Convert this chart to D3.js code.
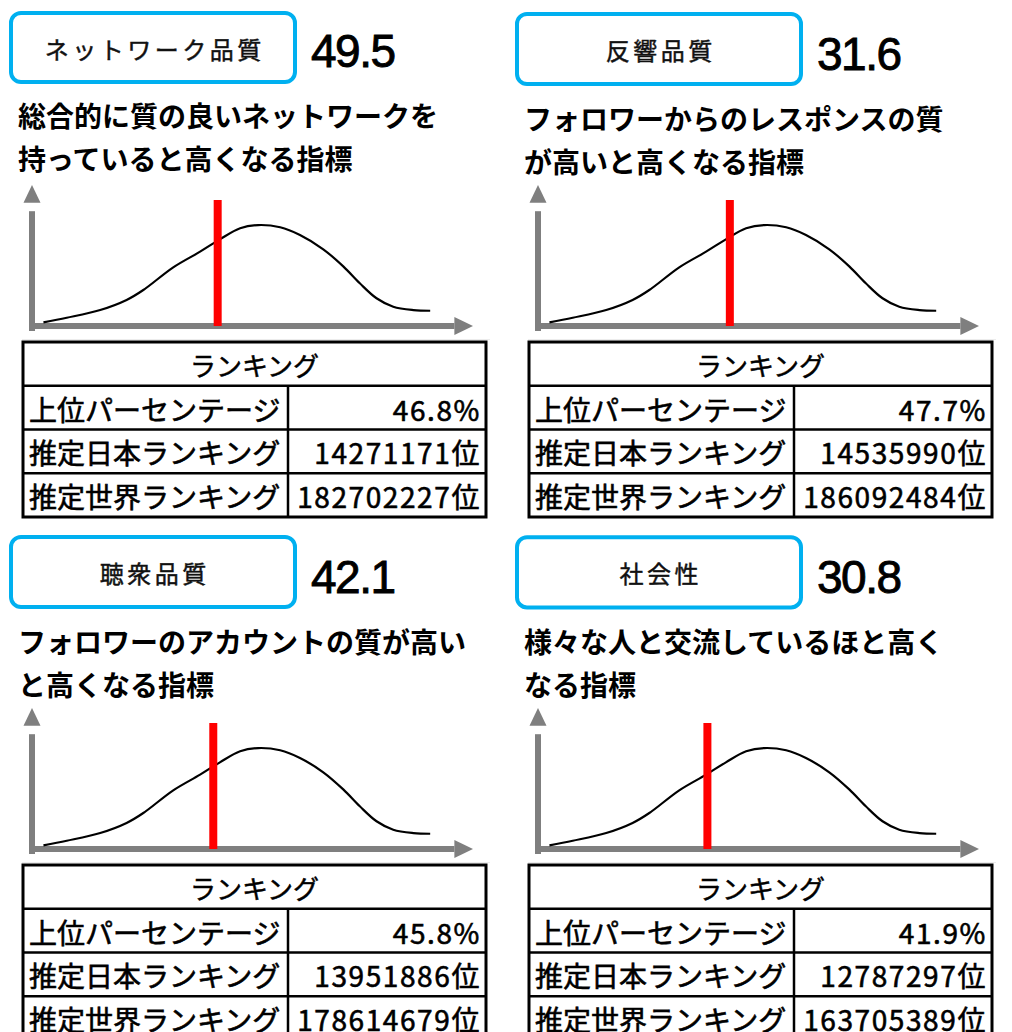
<!DOCTYPE html>
<html><head><meta charset="utf-8">
<script src="https://cdn.jsdelivr.net/npm/d3@7"></script>
<style>
html,body{margin:0;padding:0;background:#fff;}
svg{display:block;}
</style></head>
<body>
<script>
// ---- data ----
const panelNames = ["ネットワーク品質", "反響品質", "聴衆品質", "社会性"];
const scores = ["49.5", "31.6", "42.1", "30.8"];
const descLine1 = ["総合的に質の良いネットワークを", "フォロワーからのレスポンスの質", "フォロワーのアカウントの質が高い", "様々な人と交流しているほと高く"];
const descLine2 = ["持っていると高くなる指標", "が高いと高くなる指標", "と高くなる指標", "なる指標"];
const tableHeader = "ランキング";
const rowLabels = ["上位パーセンテージ", "推定日本ランキング", "推定世界ランキング"];
const topPercent = ["46.8%", "47.7%", "45.8%", "41.9%"];
const japanRank = ["14271171位", "14535990位", "13951886位", "12787297位"];
const worldRank = ["182702227位", "186092484位", "178614679位", "163705389位"];
// position of the red marker on the distribution axis (0-100)
const markerPos = [42.2, 43.6, 41.2, 38.5];
const markerTop = 90;
// hand-drawn distribution curve (axis units 0-100)
const curveX = [2.6, 7.9, 15.5, 21.5, 25.3, 32.1, 38.2, 42.7, 47.3, 51.4, 56.4, 60.9, 66.2, 70.8, 74.5, 78.3, 82.1, 86.7, 90.5];
const curveY = [2.6, 5.9, 11.4, 18.6, 25.7, 41.9, 53.1, 61.9, 69.8, 72.1, 70.5, 65.0, 54.8, 42.4, 30.5, 19.8, 13.8, 11.4, 10.9];

// ---- layout ----
const W = 1012, H = 1032;
const colX = [0, 506];
const rowY = [0, 523];
const headShift = [0, 2.5, 2.5, 3];
const JP = "'Noto Sans CJK JP','Noto Sans CJK SC',sans-serif";

const svg = d3.select("body").append("svg").attr("width", W).attr("height", H);

const x = d3.scaleLinear().domain([0, 100]).range([32, 472]);
const y = d3.scaleLinear().domain([0, 100]).range([326, 186]);
const line = d3.line().x(d => x(d[0])).y(d => y(d[1])).curve(d3.curveCatmullRom.alpha(0.5));
const curvePts = curveX.map((v, i) => [v, curveY[i]]);
const axisColor = "#7f7f7f";

panelNames.forEach((name, i) => {
  const g = svg.append("g").attr("transform", `translate(${colX[i % 2]},${rowY[Math.floor(i / 2)]})`);
  const hs = headShift[i];

  // label box
  g.append("rect").attr("x", 11).attr("y", 13 + hs * 0.4).attr("width", 284).attr("height", 69 + hs * 0.4)
    .attr("rx", 10).attr("fill", "#fff").attr("stroke", "#00b0f0").attr("stroke-width", 4);
  g.append("text").attr("x", 153 + 1.75).attr("y", 48 + hs * 0.6)
    .attr("text-anchor", "middle").attr("dominant-baseline", "central")
    .attr("font-family", JP).attr("font-size", 24).attr("letter-spacing", 3.5)
    .attr("fill", "#111").attr("stroke", "#111").attr("stroke-width", 0.45).text(name);

  // score
  g.append("text").attr("x", 311).attr("y", 67 + hs)
    .attr("font-family", "'Liberation Sans',Arial,sans-serif").attr("font-size", 46)
    .attr("letter-spacing", -1.5).attr("fill", "#000")
    .attr("stroke", "#000").attr("stroke-width", 0.9).text(scores[i]);

  // description
  [descLine1[i], descLine2[i]].forEach((t, k) => {
    g.append("text").attr("x", 18).attr("y", (k === 0 ? 115 : 158) + hs)
      .attr("dominant-baseline", "central")
      .attr("font-family", JP).attr("font-size", 28).attr("font-weight", "bold")
      .attr("fill", "#000").text(t);
  });

  // axes (arrows)
  const x0 = x(0), y0 = y(0);
  g.append("line").attr("x1", x0).attr("y1", y0 + 5).attr("x2", x0).attr("y2", y(82))
    .attr("stroke", axisColor).attr("stroke-width", 6);
  g.append("path").attr("d", `M${x0},${y(100) - 1} L${x0 - 8.5},${y(88)} L${x0 + 8.5},${y(88)} Z`).attr("fill", axisColor);
  g.append("line").attr("x1", x0 - 3).attr("y1", y0).attr("x2", x(96)).attr("y2", y0)
    .attr("stroke", axisColor).attr("stroke-width", 6);
  g.append("path").attr("d", `M${x(100) + 1},${y0} L${x(96)},${y0 - 9} L${x(96)},${y0 + 9} Z`).attr("fill", axisColor);

  // faint separator
  g.append("line").attr("x1", 22).attr("x2", 490).attr("y1", 339.5).attr("y2", 339.5)
    .attr("stroke", "#ececec").attr("stroke-width", 1);

  // curve
  g.append("path").attr("d", line(curvePts)).attr("fill", "none")
    .attr("stroke", "#000").attr("stroke-width", 2.2);

  // marker
  g.append("line").attr("x1", x(markerPos[i])).attr("x2", x(markerPos[i]))
    .attr("y1", y(markerTop)).attr("y2", y(0))
    .attr("stroke", "#ff0000").attr("stroke-width", 8);

  // table
  const tx0 = 23, tx1 = 486, tcol = 288, ty0 = 342, rh = 43.75;
  const tg = g.append("g");
  tg.append("rect").attr("x", tx0).attr("y", ty0).attr("width", tx1 - tx0).attr("height", rh * 4)
    .attr("fill", "#fff").attr("stroke", "#000").attr("stroke-width", 3);
  for (let r = 1; r < 4; r++) {
    tg.append("line").attr("x1", tx0).attr("x2", tx1).attr("y1", ty0 + rh * r).attr("y2", ty0 + rh * r)
      .attr("stroke", "#000").attr("stroke-width", 2.5);
  }
  tg.append("line").attr("x1", tcol).attr("x2", tcol).attr("y1", ty0 + rh).attr("y2", ty0 + rh * 4)
    .attr("stroke", "#000").attr("stroke-width", 2.5);
  tg.append("text").attr("x", (tx0 + tx1) / 2).attr("y", ty0 + rh / 2 + 1)
    .attr("text-anchor", "middle").attr("dominant-baseline", "central")
    .attr("font-family", JP).attr("font-size", 26).attr("fill", "#000")
    .attr("stroke", "#000").attr("stroke-width", 0.5).text(tableHeader);
  const vals = [topPercent[i], japanRank[i], worldRank[i]];
  rowLabels.forEach((lab, r) => {
    const cy = ty0 + rh * (r + 1) + rh / 2 + 1;
    tg.append("text").attr("x", tx0 + 6).attr("y", cy).attr("dominant-baseline", "central")
      .attr("font-family", JP).attr("font-size", 28).attr("fill", "#000")
      .attr("stroke", "#000").attr("stroke-width", 0.6).text(lab);
    tg.append("text").attr("x", tx1 - 5).attr("y", cy).attr("dominant-baseline", "central")
      .attr("text-anchor", "end")
      .attr("font-family", JP).attr("font-size", 28).attr("letter-spacing", 1.6)
      .attr("fill", "#000").attr("stroke", "#000").attr("stroke-width", 0.6).text(vals[r]);
  });
});
</script>
</body></html>
